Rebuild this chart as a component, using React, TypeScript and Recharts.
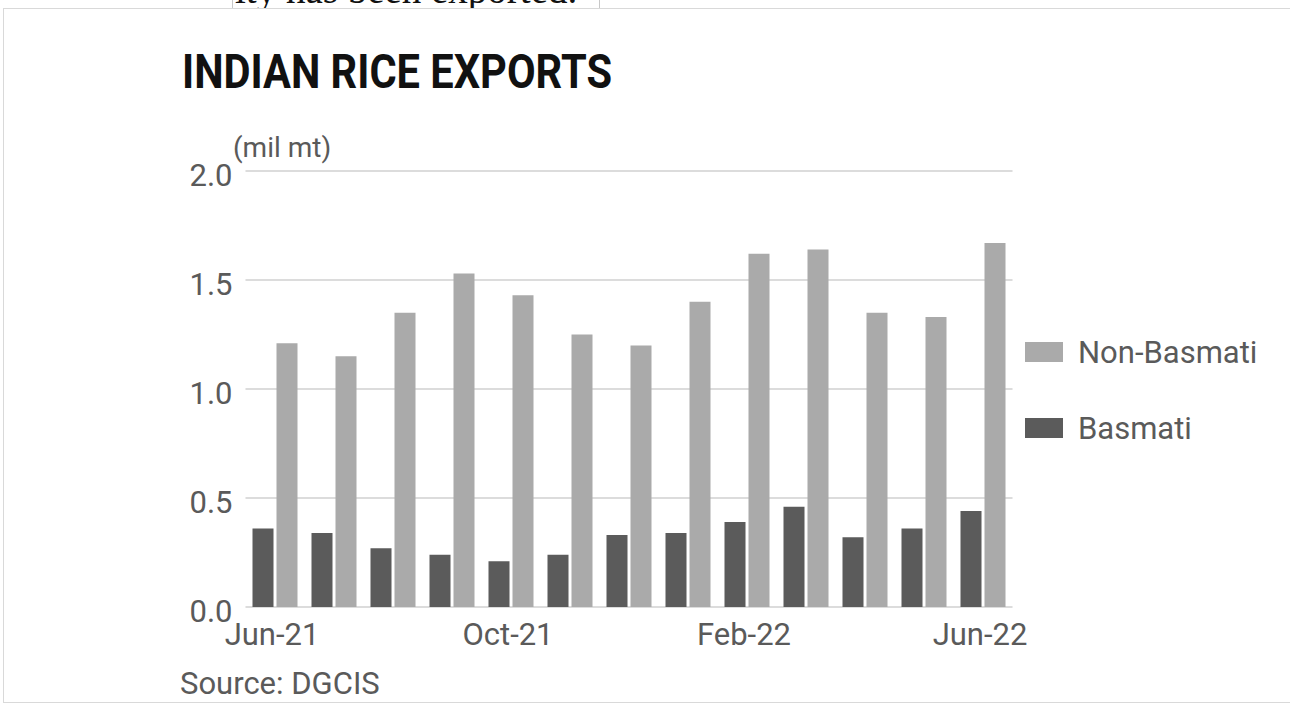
import React from 'react';
import { BarChart, Bar, XAxis, YAxis, CartesianGrid } from 'recharts';

const months = ['Jun-21', 'Jul-21', 'Aug-21', 'Sep-21', 'Oct-21', 'Nov-21', 'Dec-21', 'Jan-22', 'Feb-22', 'Mar-22', 'Apr-22', 'May-22', 'Jun-22'];
const basmati = [0.36, 0.34, 0.27, 0.24, 0.21, 0.24, 0.33, 0.34, 0.39, 0.46, 0.32, 0.36, 0.44];
const nonBasmati = [1.21, 1.15, 1.35, 1.53, 1.43, 1.25, 1.2, 1.4, 1.62, 1.64, 1.35, 1.33, 1.67];
const yTicks = [0, 0.5, 1, 1.5, 2];
const xTickLabels = ['Jun-21', 'Oct-21', 'Feb-22', 'Jun-22'];

const data = months.map((m, i) => ({ month: m, basmati: basmati[i], nonBasmati: nonBasmati[i] }));

const FONT = 'Roboto, "Noto Sans", sans-serif';
const TEXT = '#5a5a5a';
const DARK = '#5b5b5b';
const LIGHT = '#aaaaaa';

const YTick = (props: any) => {
  const { x, y, payload } = props;
  return (
    <text x={x} y={y + 4} dy="0.355em" textAnchor="end" fontFamily={FONT} fontSize={31} fill={TEXT}>
      {Number(payload.value).toFixed(1)}
    </text>
  );
};

const XTick = (props: any) => {
  const { x, y, payload } = props;
  return (
    <text x={x - 3} y={y} dy="0.71em" textAnchor="middle" fontFamily={FONT} fontSize={31} fill={TEXT}>
      {payload.value}
    </text>
  );
};

export default function App() {
  return (
    <div style={{ position: 'absolute', left: 0, top: 0, width: 1290, height: 703, background: '#fff', overflow: 'hidden' }}>
      <div style={{ position: 'absolute', left: 3, top: 8, width: 1300, height: 693, border: '1px solid #d9d9d9' }} />
      <div style={{ position: 'absolute', left: 232, top: 0, width: 366, height: 8, borderLeft: '1px solid #c8c8c8', borderRight: '1px solid #c8c8c8', background: '#fff', overflow: 'hidden' }}>
        <svg width={366} height={8} style={{ display: 'block' }}>
          <text x={2} y={3} fontFamily='"Liberation Serif", serif' fontSize={39} fill="#111">ity has been exported.</text>
        </svg>
      </div>
      <div style={{ position: 'absolute', left: 0, top: 0 }}>
        <BarChart
          width={1290}
          height={703}
          data={data}
          margin={{ top: 171, right: 277.5, bottom: 66, left: 185.5 }}
          barGap={3}
        >
          <CartesianGrid vertical={false} stroke="#dcdcdc" strokeWidth={2} />
          <XAxis
            dataKey="month"
            ticks={xTickLabels}
            interval={0}
            axisLine={false}
            tickLine={false}
            tickSize={0}
            tickMargin={16}
            height={30}
            tick={<XTick />}
          />
          <YAxis
            domain={[0, 2]}
            ticks={yTicks}
            axisLine={false}
            tickLine={false}
            tickSize={0}
            tickMargin={13}
            width={60}
            tick={<YTick />}
          />
          <Bar dataKey="basmati" name="Basmati" fill={DARK} barSize={21} isAnimationActive={false} />
          <Bar dataKey="nonBasmati" name="Non-Basmati" fill={LIGHT} barSize={21} isAnimationActive={false} />
        </BarChart>
      </div>
      <svg width={1290} height={703} style={{ position: 'absolute', left: 0, top: 0, pointerEvents: 'none' }}>
        <text x={182} y={88} fontFamily={FONT} fontWeight={700} fontSize={49} fill="#111" textLength={430} lengthAdjust="spacingAndGlyphs">INDIAN RICE EXPORTS</text>
        <text x={233} y={157} fontFamily={FONT} fontSize={28} fill={TEXT}>(mil mt)</text>
        <rect x={1025} y={342} width={38} height={20} fill={LIGHT} />
        <text x={1078} y={363} fontFamily={FONT} fontSize={31} fill={TEXT}>Non-Basmati</text>
        <rect x={1025} y={418} width={38} height={20} fill={DARK} />
        <text x={1078} y={439} fontFamily={FONT} fontSize={31} fill={TEXT}>Basmati</text>
        <text x={180} y={694} fontFamily={FONT} fontSize={31} fill={TEXT}>Source: DGCIS</text>
      </svg>
    </div>
  );
}
